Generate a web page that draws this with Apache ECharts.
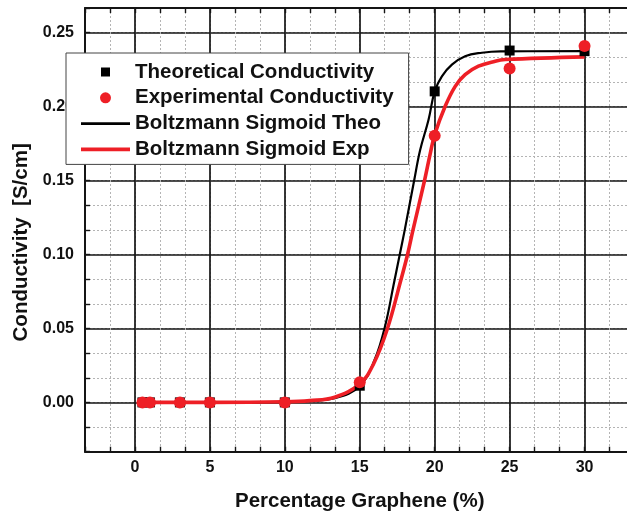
<!DOCTYPE html>
<html>
<head>
<meta charset="utf-8">
<script src="https://cdn.jsdelivr.net/npm/echarts@6/dist/echarts.min.js"></script>
<style>
html,body{margin:0;padding:0;background:#fff;}
#chart{width:627px;height:513px;}
</style>
</head>
<body>
<div id="chart"></div>
<script>
// ---- data ----
const pointX = [0.5, 1, 3, 5, 10, 15, 20, 25, 30];
const theoValues = [0, 0, 0, 0, 0, 0.0113, 0.2103, 0.2379, 0.2375];
const expValues  = [0, 0, 0, 0, 0, 0.0136, 0.1803, 0.2257, 0.2409];

const theoCurveX = [0.5, 5, 10, 11.67, 13.33, 15, 16, 16.7, 17.25, 17.65, 18, 18.63, 19.03, 19.59, 20, 20.48, 21.15, 22.03, 23.15, 24.4, 30];
const theoCurveY = [0, 0, 0.0003, 0.001, 0.0028, 0.011, 0.029, 0.052, 0.079, 0.099, 0.1165, 0.15, 0.1706, 0.1911, 0.2103, 0.2205, 0.2284, 0.2341, 0.2364, 0.2373, 0.2375];
const expCurveX = [0.5, 5, 10, 11.67, 13.33, 15, 15.92, 16.85, 17.74, 18.19, 18.55, 19.3, 19.7, 20, 20.7, 21.37, 22.03, 22.92, 24.04, 24.7, 30];
const expCurveY = [0, 0, 0.0004, 0.0012, 0.0035, 0.0125, 0.026, 0.05, 0.0826, 0.10, 0.1165, 0.149, 0.168, 0.181, 0.2002, 0.2137, 0.2216, 0.2273, 0.2307, 0.2318, 0.2336];

const xTickValues = [0, 5, 10, 15, 20, 25, 30];
const xTickLabels = ['0', '5', '10', '15', '20', '25', '30'];
const yTickValues = [0, 0.05, 0.10, 0.15, 0.20, 0.25];
const yTickLabels = ['0.00', '0.05', '0.10', '0.15', '0.20', '0.25'];

const seriesNames = ['Theoretical Conductivity', 'Experimental Conductivity', 'Boltzmann Sigmoid Theo', 'Boltzmann Sigmoid Exp'];
const xTitle = 'Percentage Graphene (%)';
const yTitle = 'Conductivity  [S/cm]';

// ---- styling ----
const FONT = 'Liberation Sans, Arial, Helvetica, sans-serif';
const RED = '#ee1f26';
const X_MIN = -10 / 3, X_MAX = 100 / 3;
const Y_MIN = -1 / 30, Y_MAX = 8 / 30;

function pick(values, labels) {
  return function (v) {
    for (let i = 0; i < values.length; i++) {
      if (Math.abs(values[i] - v) < 1e-6) return labels[i];
    }
    return '';
  };
}
function zip(a, b) { return a.map((x, i) => [x, b[i]]); }

const minorSplit = { show: true, lineStyle: { color: '#b4b4b4', width: 1, type: [2, 2] } };
const majorSplit = { show: true, lineStyle: { color: '#151515', width: 1.7 } };
const frameLine = { show: true, onZero: false, lineStyle: { color: '#151515', width: 2 } };
const noLine = { show: false, onZero: false };
const inTick = { show: true, inside: true, length: 5, lineStyle: { color: '#151515', width: 1.4 } };

const chart = echarts.init(document.getElementById('chart'), null, { renderer: 'canvas' });
chart.setOption({
  animation: false,
  backgroundColor: '#fff',
  textStyle: { fontFamily: FONT },
  grid: { left: 85, top: 8, right: -7.5, bottom: 61.3, containLabel: false, outerBoundsMode: 'none' },
  xAxis: [
    { // minor grid + bottom frame
      type: 'value', min: X_MIN, max: X_MAX, interval: 5 / 3, position: 'bottom',
      axisLine: frameLine, axisTick: inTick, axisLabel: { show: false },
      splitLine: minorSplit
    },
    { // major grid + labels
      type: 'value', min: X_MIN, max: X_MAX, minInterval: 5, maxInterval: 5, position: 'bottom',
      axisLine: noLine, axisTick: { show: false },
      splitLine: majorSplit,
      axisLabel: {
        show: true, margin: 8, color: '#111', fontSize: 16, fontWeight: 'bold', fontFamily: FONT,
        showMinLabel: false, showMaxLabel: false,
        formatter: pick(xTickValues, xTickLabels)
      },
      name: xTitle, nameLocation: 'middle', nameGap: 39,
      nameTextStyle: { color: '#111', fontSize: 20.5, fontWeight: 'bold', fontFamily: FONT }
    },
    { // top frame
      type: 'value', min: X_MIN, max: X_MAX, interval: 5 / 3, position: 'top',
      axisLine: frameLine, axisTick: inTick, axisLabel: { show: false }, splitLine: { show: false }
    }
  ],
  yAxis: [
    { // minor grid + left frame
      type: 'value', min: Y_MIN, max: Y_MAX, interval: 1 / 60, position: 'left',
      axisLine: frameLine, axisTick: inTick, axisLabel: { show: false },
      splitLine: minorSplit
    },
    { // major grid + labels
      type: 'value', min: Y_MIN, max: Y_MAX, minInterval: 0.05, maxInterval: 0.05, position: 'left',
      axisLine: noLine, axisTick: { show: false },
      splitLine: majorSplit,
      axisLabel: {
        show: true, margin: 11, color: '#111', fontSize: 16, fontWeight: 'bold', fontFamily: FONT,
        showMinLabel: false, showMaxLabel: false,
        formatter: pick(yTickValues, yTickLabels)
      },
      name: yTitle, nameLocation: 'middle', nameGap: 53,
      nameTextStyle: { color: '#111', fontSize: 20.5, fontWeight: 'bold', fontFamily: FONT, padding: [0, 25, 0, 0] }
    },
    { // right frame
      type: 'value', min: Y_MIN, max: Y_MAX, interval: 1 / 60, position: 'right',
      axisLine: frameLine, axisTick: inTick, axisLabel: { show: false }, splitLine: { show: false }
    }
  ],
  legend: {
    orient: 'vertical', left: 66, top: 53,
    padding: [8.5, 15, 4.5, 15],
    itemWidth: 49, itemHeight: 11, itemGap: 4.8,
    symbolKeepAspect: true,
    backgroundColor: '#fff', borderColor: '#444', borderWidth: 1, borderRadius: 0,
    textStyle: { color: '#111', fontSize: 20.5, fontWeight: 'bold', fontFamily: FONT },
    data: [
      { name: seriesNames[0], icon: 'path://M0,0M11,11M1,1L10,1L10,10L1,10Z' },
      { name: seriesNames[1], icon: 'circle' },
      { name: seriesNames[2], icon: 'path://M0,0L49,0L49,2.6L0,2.6Z' },
      { name: seriesNames[3], icon: 'path://M0,0L49,0L49,3.8L0,3.8Z' }
    ]
  },
  series: [
    {
      name: seriesNames[2], type: 'line', xAxisIndex: 1, yAxisIndex: 1,
      data: zip(theoCurveX, theoCurveY), smooth: 0.4,
      symbol: 'none', showSymbol: false,
      lineStyle: { color: '#000', width: 2.2 }, itemStyle: { color: '#000' }, z: 3
    },
    {
      name: seriesNames[3], type: 'line', xAxisIndex: 1, yAxisIndex: 1,
      data: zip(expCurveX, expCurveY), smooth: 0.4,
      symbol: 'none', showSymbol: false,
      lineStyle: { color: RED, width: 3.6 }, itemStyle: { color: RED }, z: 4
    },
    {
      name: seriesNames[0], type: 'scatter', xAxisIndex: 1, yAxisIndex: 1,
      data: zip(pointX, theoValues), symbol: 'rect', symbolSize: 10,
      itemStyle: { color: '#000', opacity: 1 }, z: 5
    },
    {
      name: seriesNames[1], type: 'scatter', xAxisIndex: 1, yAxisIndex: 1,
      data: zip(pointX, expValues), symbol: 'circle', symbolSize: 12,
      itemStyle: { color: RED, opacity: 1 }, z: 6
    }
  ]
});
</script>
</body>
</html>
